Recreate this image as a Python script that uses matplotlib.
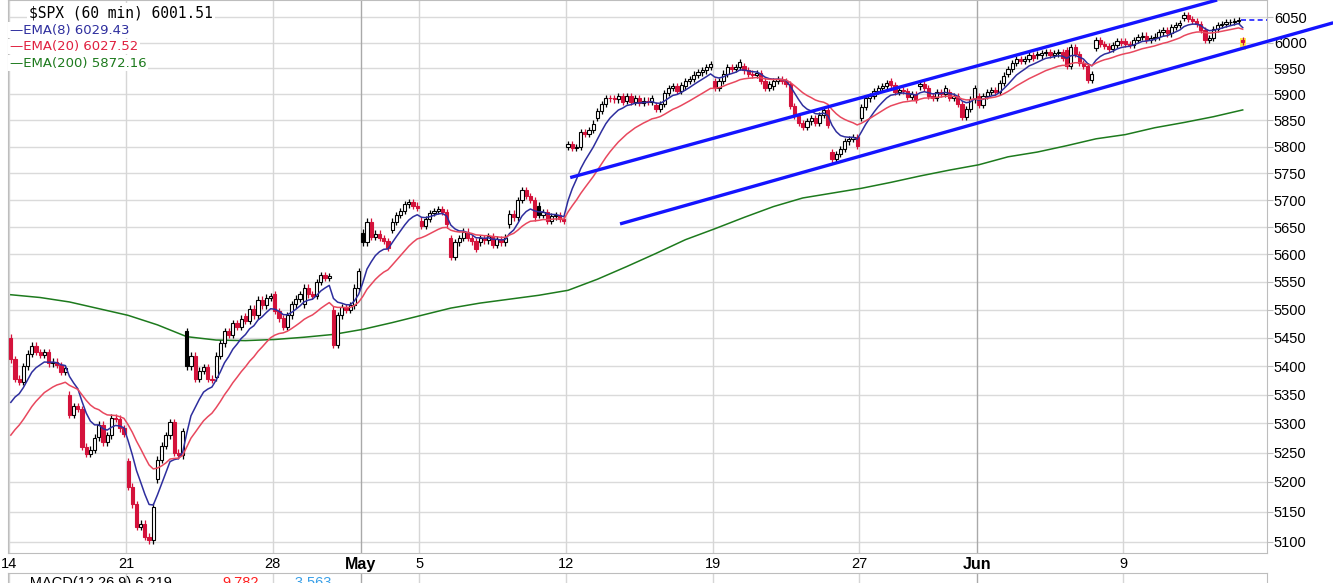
import numpy as np
import matplotlib
matplotlib.use('Agg')
import matplotlib.pyplot as plt
from matplotlib.patches import Rectangle
from matplotlib.ticker import FixedLocator, NullLocator

# hourly bars, 7 per trading day, $SPX from Apr 14 to Jun 13 (one bar)
day_open = [5450, 5425, 5350, 5276, 5235, 5205, 5462, 5380, 5488, 5528,
            5510, 5500, 5640, 5645, 5662, 5630, 5622, 5655, 5690, 5800,
            5854, 5887, 5880, 5915, 5925, 5955, 5915, 5845, 5790, 5855,
            5925, 5915, 5905, 5897, 5939, 5978, 5985, 5990, 6004, 6009,
            6049, 6010, 6006]
day_close = [
    [5412, 5378, 5372, 5400, 5422, 5436, 5425],
    [5420, 5425, 5405, 5408, 5402, 5390, 5396],
    [5315, 5330, 5325, 5260, 5248, 5255, 5275],
    [5298, 5268, 5280, 5310, 5308, 5292, 5282],
    [5192, 5162, 5125, 5130, 5108, 5102, 5158],
    [5238, 5262, 5280, 5302, 5250, 5245, 5287],
    [5400, 5418, 5378, 5392, 5398, 5378, 5376],
    [5418, 5440, 5462, 5455, 5476, 5470, 5484],
    [5480, 5502, 5490, 5518, 5508, 5522, 5525],
    [5498, 5485, 5470, 5490, 5510, 5520, 5528],
    [5540, 5528, 5525, 5550, 5562, 5558, 5560],
    [5438, 5490, 5505, 5500, 5508, 5540, 5569],
    [5622, 5660, 5632, 5638, 5630, 5625, 5612],
    [5660, 5672, 5680, 5692, 5696, 5690, 5686],
    [5652, 5665, 5676, 5680, 5684, 5678, 5655],
    [5595, 5622, 5630, 5642, 5630, 5624, 5610],
    [5630, 5626, 5634, 5618, 5628, 5622, 5631],
    [5675, 5668, 5700, 5718, 5708, 5700, 5668],
    [5672, 5678, 5662, 5670, 5672, 5665, 5662],
    [5805, 5798, 5800, 5828, 5825, 5832, 5844],
    [5868, 5882, 5893, 5892, 5890, 5896, 5886],
    [5896, 5886, 5893, 5884, 5888, 5885, 5892],
    [5872, 5882, 5902, 5912, 5916, 5906, 5917],
    [5925, 5930, 5938, 5942, 5946, 5952, 5958],
    [5912, 5925, 5940, 5952, 5948, 5952, 5962],
    [5946, 5940, 5938, 5941, 5925, 5912, 5920],
    [5925, 5930, 5926, 5920, 5878, 5858, 5845],
    [5838, 5848, 5855, 5845, 5860, 5870, 5842],
    [5776, 5786, 5796, 5810, 5815, 5818, 5802],
    [5876, 5892, 5896, 5906, 5912, 5915, 5921],
    [5917, 5905, 5908, 5906, 5895, 5900, 5889],
    [5920, 5912, 5896, 5893, 5905, 5900, 5912],
    [5893, 5896, 5882, 5856, 5872, 5890, 5912],
    [5880, 5896, 5905, 5908, 5904, 5922, 5936],
    [5948, 5960, 5968, 5964, 5968, 5976, 5970],
    [5975, 5980, 5982, 5976, 5979, 5981, 5971],
    [5955, 5992, 5978, 5960, 5955, 5928, 5939],
    [6005, 5998, 5994, 5988, 5995, 6003, 6000],
    [5998, 5996, 6005, 6011, 6014, 6006, 6010],
    [6012, 6020, 6024, 6018, 6030, 6034, 6038],
    [6055, 6046, 6042, 6036, 6024, 6006, 6010],
    [6026, 6034, 6036, 6040, 6041, 6043, 6045],
    [6001.51],
]
# EMA(200) read at the start of each day
ema200_day = [5527, 5522, 5514, 5502, 5490, 5473, 5452, 5446, 5445, 5447,
              5451, 5456, 5465, 5477, 5490, 5503, 5512, 5519, 5526, 5535,
              5555, 5578, 5602, 5627, 5647, 5668, 5688, 5704, 5713, 5722,
              5733, 5745, 5756, 5766, 5781, 5790, 5802, 5815, 5823, 5836,
              5846, 5857, 5870]
ema8_prev, ema20_prev = 5315, 5266

# x axis labels (day index -> label), month starts in bold
tick_days = [0, 4, 9, 12, 14, 19, 24, 29, 33, 38]
tick_text = ['14', '21', '28', 'May', '5', '12', '19', '27', 'Jun', '9']
month_days = [12, 33]

price_ticks = list(range(5100, 6051, 50))

# drawn trend channel (bar index, price)
upper_line = [(133.5, 5742), (287.9, 6084)]
lower_line = [(145.4, 5656), (315.6, 6039)]
prev_close_level = 6045

legend_title = '$SPX (60 min) 6001.51'
legend_items = [('EMA(8) 6029.43', '#2e2e9e'),
                ('EMA(20) 6027.52', '#e0203f'),
                ('EMA(200) 5872.16', '#1d7a1d')]
macd_parts = [('\u2014 MACD(12,26,9) 6.219', 'black', 11),
              ('9.782', '#ff2020', 222),
              ('-3.563', '#3aa0e8', 290)]

# ---- build bars
opens, closes = [], []
for o, cl in zip(day_open, day_close):
    prev = o
    for c in cl:
        opens.append(prev)
        closes.append(c)
        prev = c
opens = np.array(opens, float)
closes = np.array(closes, float)
n = len(closes)
x = np.arange(n)


def ema(vals, span, prev):
    a = 2.0 / (span + 1)
    out = []
    e = prev
    for v in vals:
        e += a * (v - e)
        out.append(e)
    return np.array(out)


ema8 = ema(closes, 8, ema8_prev)
ema20 = ema(closes, 20, ema20_prev)

RED = '#d4123b'
W, H = 1333, 583
plt.rcParams['font.family'] = ['Liberation Sans', 'DejaVu Sans']
fig = plt.figure(figsize=(W / 100, H / 100), dpi=100)
ax = fig.add_axes([8 / W, 30 / H, 1259 / W, 553 / H])
ax.set_yscale('log')
ax.set_xlim(-0.67, 299.8)
ax.set_ylim(5081, 6084)

# grid
for p in price_ticks:
    ax.axhline(p, color='#dadada', lw=1, zorder=0)
for d in tick_days:
    col = '#a9a9a9' if d in month_days else '#d6d6d6'
    ax.axvline(7 * d - 0.5, color=col, lw=1, zorder=0)

# EMA 200
ax.plot([7 * d for d in range(len(ema200_day))], ema200_day, color='#1d7a1d', lw=1.1, zorder=2)

# highlighted last bar
ax.add_patch(Rectangle((n - 1.7, 5985), 1.4, 25, facecolor='#ffe94a', edgecolor='none', zorder=1.5))

# candles
prev_c = opens[0]
for i in range(n):
    o, c = opens[i], closes[i]
    col = RED if c < prev_c else 'black'
    hollow = c > o
    hi = max(o, c) + 6
    lo = min(o, c) - 6
    ax.vlines(i, lo, hi, color=col, lw=0.9, zorder=2)
    h = max(abs(c - o), 1.0)
    ax.bar(i, h, bottom=min(o, c), width=0.76,
           facecolor='white' if hollow else col, edgecolor=col, lw=0.8, zorder=3)
    prev_c = c

ax.plot(x, ema8, color='#2e2e9e', lw=1.1, zorder=4)
ax.plot(x, ema20, color='#e8485e', lw=1.1, zorder=4)

# prior close marker
ax.hlines(prev_close_level, n - 1.5, 299.8, colors='#2020ff', linestyles=(0, (3, 2)), lw=1.2, zorder=4)

# trend channel
ax.plot(*zip(*upper_line), color='#1414ff', lw=2.4, zorder=5, solid_capstyle='butt')
ax.plot(*zip(*lower_line), color='#1414ff', lw=2.4, zorder=5, clip_on=False, solid_capstyle='butt')

# axes styling
for s in ax.spines.values():
    s.set_color('#bdbdbd')
ax.yaxis.tick_right()
ax.yaxis.set_major_locator(FixedLocator(price_ticks))
ax.yaxis.set_minor_locator(NullLocator())
ax.set_yticklabels([str(p) for p in price_ticks], fontsize=10.5)
ax.tick_params(axis='y', length=4, color='#bdbdbd', pad=1)
ax.set_xticks([7 * d - 0.5 for d in tick_days])
ax.set_xticklabels(tick_text, fontsize=10.5)
for lab, d in zip(ax.get_xticklabels(), tick_days):
    if d in month_days:
        lab.set_fontweight('bold')
        lab.set_fontsize(11.5)
ax.tick_params(axis='x', length=0, pad=3)

# legend block
ax.text(0.0165, 0.977, legend_title, transform=ax.transAxes, fontsize=10.5,
        family='DejaVu Sans Mono', va='center', ha='left',
        bbox=dict(fc='white', ec='none', pad=1.5), zorder=6)
ys = [0.945, 0.916, 0.886]
for (lab, col), yy in zip(legend_items, ys):
    ax.text(0.0015, yy, '\u2014' + lab, transform=ax.transAxes, fontsize=9.5,
            family='DejaVu Sans', color=col, va='center', ha='left',
            bbox=dict(fc='white', ec='none', pad=1), zorder=6)

# top of the MACD panel below
ax2 = fig.add_axes([8 / W, -0.06, 1259 / W, 0.06 + 10 / H])
ax2.set_xlim(ax.get_xlim())
ax2.set_xticks([])
ax2.set_yticks([])
for d in tick_days:
    col = '#a9a9a9' if d in month_days else '#d6d6d6'
    ax2.axvline(7 * d - 0.5, color=col, lw=1, zorder=0)
for s in ax2.spines.values():
    s.set_color('#bdbdbd')
for txt, col, px in macd_parts:
    fig.text(px / W, 0.0, txt, color=col, fontsize=10.5, va='center', ha='left')

fig.savefig('out.png', dpi=100)
